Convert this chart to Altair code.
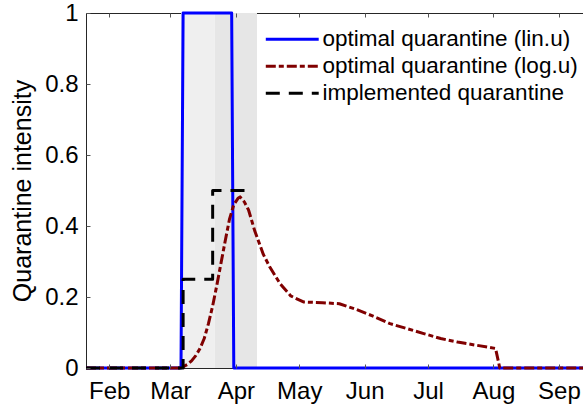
import altair as alt
import pandas as pd

# Vertices of each quarantine-intensity curve (date, value)
lin_dates = ["2020-01-21", "2020-03-06", "2020-03-07", "2020-03-30", "2020-03-31", "2020-09-12T10:00"]
lin_values = [0, 0, 1, 1, 0, 0]

log_dates = [
    "2020-01-21", "2020-03-06", "2020-03-09", "2020-03-11", "2020-03-13", "2020-03-15",
    "2020-03-17", "2020-03-19", "2020-03-21", "2020-03-23", "2020-03-25", "2020-03-27",
    "2020-03-29", "2020-03-31", "2020-04-02", "2020-04-03", "2020-04-05", "2020-04-07",
    "2020-04-10", "2020-04-14", "2020-04-17", "2020-04-22", "2020-04-27", "2020-05-03",
    "2020-05-12", "2020-05-20", "2020-05-28", "2020-06-05", "2020-06-13", "2020-06-21",
    "2020-06-29", "2020-07-07", "2020-07-15", "2020-07-24", "2020-08-02", "2020-08-04",
    "2020-09-12T10:00",
]
log_values = [
    0, 0, 0.01, 0.02, 0.035, 0.055,
    0.083, 0.125, 0.175, 0.234, 0.297, 0.36,
    0.42, 0.46, 0.478, 0.482, 0.468, 0.445,
    0.385, 0.32, 0.285, 0.237, 0.203, 0.186,
    0.184, 0.181, 0.165, 0.146, 0.125, 0.111,
    0.097, 0.083, 0.073, 0.064, 0.055, 0,
    0,
]

impl_dates = ["2020-01-21", "2020-03-07", "2020-03-07", "2020-03-21", "2020-03-21", "2020-04-06"]
impl_values = [0, 0, 0.25, 0.25, 0.5, 0.5]

series_names = ["optimal quarantine (lin.u)", "optimal quarantine (log.u)", "implemented quarantine"]
series_colors = ["#0000ff", "#800000", "#000000"]
series_dashes = [[1, 0], [10, 3, 5, 3], [14, 9]]

# Shaded intervention phases
phase_names = ["phase 1", "phase 2"]
phase_start = ["2020-03-06", "2020-03-22"]
phase_end = ["2020-03-22", "2020-04-11"]
phase_colors = ["#efefef", "#e6e6e6"]

month_numbers = [2, 3, 4, 5, 6, 7, 8, 9]
y_ticks = [0, 0.2, 0.4, 0.6, 0.8, 1]

FONT = "Liberation Sans"


def frame(dates, values, name):
    return pd.DataFrame({
        "date": pd.to_datetime(dates, format="ISO8601"),
        "value": values,
        "series": name,
        "step": list(range(len(dates))),
    })


frames = [
    frame(lin_dates, lin_values, series_names[0]),
    frame(log_dates, log_values, series_names[1]),
    frame(impl_dates, impl_values, series_names[2]),
]

phases = pd.DataFrame({
    "phase": phase_names,
    "start": pd.to_datetime(phase_start, format="ISO8601"),
    "end": pd.to_datetime(phase_end, format="ISO8601"),
})

x_scale = alt.Scale(domain=[alt.DateTime(year=2020, month=1, date=21),
                            alt.DateTime(year=2020, month=9, date=12, hours=10)])
y_scale = alt.Scale(domain=[0, 1], nice=False, zero=False)
month_values = [alt.DateTime(year=2020, month=m, date=1) for m in month_numbers]

# Ticks point into the plot: the axis is shifted inward by the tick length
bottom_axis = alt.Axis(values=month_values, format="%b", title=None, domain=False,
                       offset=-4, tickSize=4, labelPadding=11, grid=False, zindex=1)
top_axis = alt.Axis(orient="top", values=month_values, labels=False, title=None,
                    domain=False, offset=-4, tickSize=4, grid=False, zindex=1)
y_axis = alt.Axis(values=y_ticks, format=".1~f", title="Quarantine intensity",
                  domain=False, offset=-4, tickSize=4, labelPadding=8,
                  titlePadding=9, titleFontSize=25, titleFontWeight="normal",
                  grid=False, zindex=1)

legend = alt.Legend(orient="none", legendX=195, legendY=15, title=None,
                    symbolType="M-5,0H5", symbolSize=112, symbolStrokeWidth=3,
                    labelFontSize=22.5, labelOffset=19, rowPadding=4, padding=0,
                    labelFont=FONT, labelColor="#000000", labelLimit=400)
color_scale = alt.Scale(domain=series_names, range=series_colors)
dash_scale = alt.Scale(domain=series_names, range=series_dashes)

shading = alt.Chart(phases).mark_rect().encode(
    x=alt.X("start:T", scale=x_scale, axis=top_axis),
    x2="end:T",
    fill=alt.Fill("phase:N", scale=alt.Scale(domain=phase_names, range=phase_colors), legend=None),
)


def curve(df, x_axis):
    return alt.Chart(df).mark_line(strokeWidth=3, strokeJoin="round", strokeCap="butt").encode(
        x=alt.X("date:T", scale=x_scale, axis=x_axis),
        y=alt.Y("value:Q", scale=y_scale, axis=y_axis),
        color=alt.Color("series:N", scale=color_scale, legend=legend),
        strokeDash=alt.StrokeDash("series:N", scale=dash_scale, legend=legend),
        order="step:Q",
    )


chart = alt.layer(
    shading,
    curve(frames[0], bottom_axis),
    curve(frames[1], None),
    curve(frames[2], None),
).resolve_axis(x="independent").properties(
    width=497,
    height=355,
    padding={"left": 86, "top": 13, "right": 0, "bottom": 39},
    autosize=alt.AutoSizeParams(type="none"),
    background="white",
).configure_view(
    stroke="#262626", strokeWidth=1
).configure_axis(
    labelFont=FONT, labelFontSize=24, labelColor="#000000",
    titleFont=FONT, titleColor="#000000",
    tickColor="#555555", tickWidth=1,
)

chart.save("out.html", embed_options={"renderer": "svg", "actions": False})
